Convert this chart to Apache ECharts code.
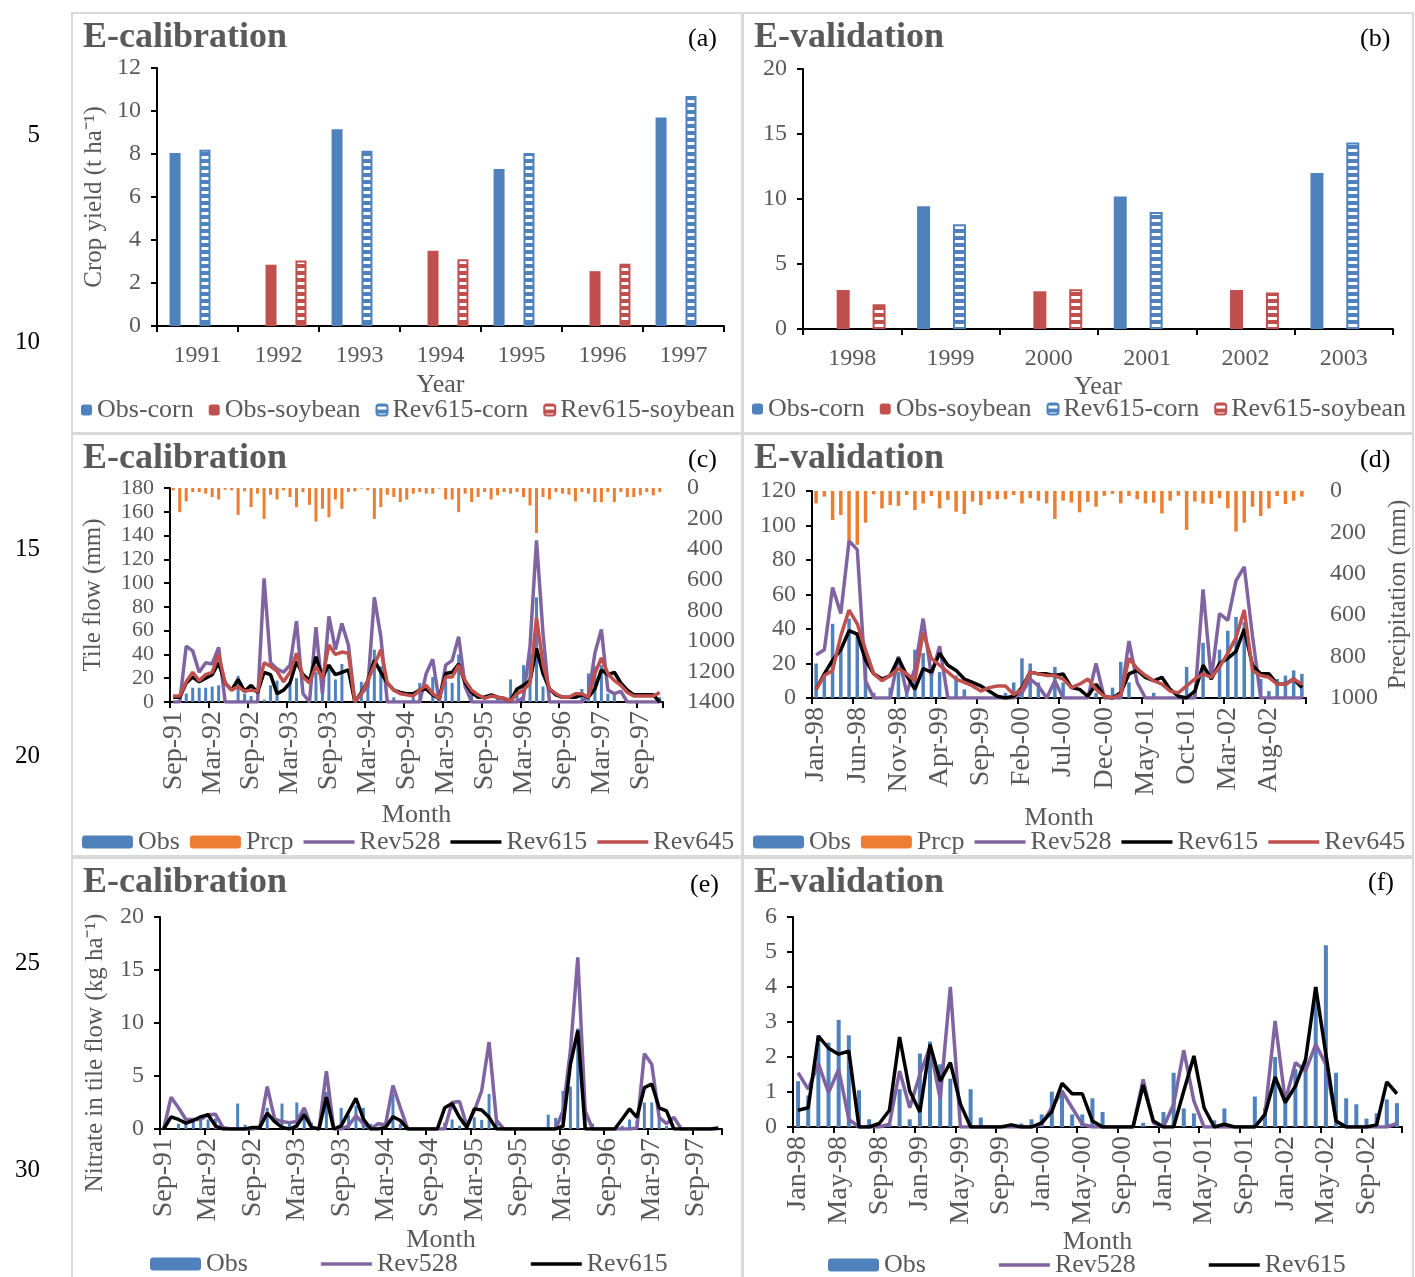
<!DOCTYPE html>
<html><head><meta charset="utf-8">
<script src="https://cdn.jsdelivr.net/npm/echarts@6/dist/echarts.min.js"></script>
<style>html,body{margin:0;padding:0;background:#fff}#c{width:1415px;height:1277px}</style>
</head><body><div id="c"></div>
<script>
// ---------- DATA ----------
const calYears = ['1991','1992','1993','1994','1995','1996','1997'];
const calObsCorn = [8.05, null, 9.15, null, 7.3, null, 9.7];
const calObsSoy  = [null, 2.85, null, 3.5, null, 2.55, null];
const calRevCorn = [8.2, null, 8.15, null, 8.05, null, 10.7];
const calRevSoy  = [null, 3.05, null, 3.1, null, 2.9, null];

const valYears = ['1998','1999','2000','2001','2002','2003'];
const valObsCorn = [null, 9.45, null, 10.2, null, 12.0];
const valObsSoy  = [3.0, null, 2.9, null, 3.0, null];
const valRevCorn = [null, 8.05, null, 9.0, null, 14.35];
const valRevSoy  = [1.9, null, 3.05, null, 2.8, null];

const calMonths = ['Sep-91','Oct-91','Nov-91','Dec-91',
 'Jan-92','Feb-92','Mar-92','Apr-92','May-92','Jun-92','Jul-92','Aug-92','Sep-92','Oct-92','Nov-92','Dec-92',
 'Jan-93','Feb-93','Mar-93','Apr-93','May-93','Jun-93','Jul-93','Aug-93','Sep-93','Oct-93','Nov-93','Dec-93',
 'Jan-94','Feb-94','Mar-94','Apr-94','May-94','Jun-94','Jul-94','Aug-94','Sep-94','Oct-94','Nov-94','Dec-94',
 'Jan-95','Feb-95','Mar-95','Apr-95','May-95','Jun-95','Jul-95','Aug-95','Sep-95','Oct-95','Nov-95','Dec-95',
 'Jan-96','Feb-96','Mar-96','Apr-96','May-96','Jun-96','Jul-96','Aug-96','Sep-96','Oct-96','Nov-96','Dec-96',
 'Jan-97','Feb-97','Mar-97','Apr-97','May-97','Jun-97','Jul-97','Aug-97','Sep-97','Oct-97','Nov-97','Dec-97'];
const valMonths = [
 'Jan-98','Feb-98','Mar-98','Apr-98','May-98','Jun-98','Jul-98','Aug-98','Sep-98','Oct-98','Nov-98','Dec-98',
 'Jan-99','Feb-99','Mar-99','Apr-99','May-99','Jun-99','Jul-99','Aug-99','Sep-99','Oct-99','Nov-99','Dec-99',
 'Jan-00','Feb-00','Mar-00','Apr-00','May-00','Jun-00','Jul-00','Aug-00','Sep-00','Oct-00','Nov-00','Dec-00',
 'Jan-01','Feb-01','Mar-01','Apr-01','May-01','Jun-01','Jul-01','Aug-01','Sep-01','Oct-01','Nov-01','Dec-01',
 'Jan-02','Feb-02','Mar-02','Apr-02','May-02','Jun-02','Jul-02','Aug-02','Sep-02','Oct-02','Nov-02','Dec-02'];

// (c) tile flow calibration, mm
const calPrcp = [15,158,88,26,26,37,59,75,11,15, 176,22,125,37,202,44,75,15,59,125, 26,110,220,136,191,75,136,26,22,4,
 15,202,125,44,59,92,75,37,26,37, 37,4,75,75,158,37,92,59,26,75, 48,26,37,26,59,114,295,59,75,26,
 37,44,88,26,37,92,92,26,92,26, 59,59,48,26,48,26];
const calObs = [0,0,7,12,12,12,13,14,0,0, 22,7,5,0,2,14,18,0,15,20, 0,0,25,25,27,19,32,0,0,17,
 17,44,30,0,4,0,0,4,16,0, 21,0,18,16,40,0,6,0,0,0, 3,0,19,11,31,40,88,13,3,0,
 0,0,0,11,24,30,31,7,7,0, 0,0,0,0,0,4];
const calRev528 = [0,0,47,43,25,33,32,46,0,0, 0,0,0,0,104,33,28,25,31,68, 7,0,63,7,72,44,66,48,0,7,
 13,88,55,0,0,0,0,0,0,24, 36,0,31,35,55,13,0,0,0,0, 0,0,0,0,4,47,136,58,0,0,
 0,0,0,0,5,41,61,10,7,9, 0,0,0,0,0,0];
const calRev615 = [4,4,16,21,17,20,23,33,16,10, 19,9,14,8,25,23,7,10,16,34, 23,18,38,21,31,23,25,27,0,8,
 18,35,25,16,10,8,7,7,10,11, 6,3,24,25,32,16,8,4,4,6, 4,3,1,11,14,18,45,24,11,6,
 4,4,4,6,4,11,27,23,25,16, 10,6,6,6,6,0];
const calRev645 = [5,5,17,25,18,23,25,40,16,10, 13,9,10,9,33,30,26,17,25,41, 21,16,30,20,48,40,42,41,0,7,
 18,31,44,16,10,7,6,5,10,14, 7,3,21,21,31,18,10,6,3,5, 4,3,1,7,10,16,71,32,11,7,
 4,4,7,7,4,24,37,24,18,14, 8,5,5,5,5,8];

// (d) tile flow validation, mm
const valPrcp = [60,27,140,116,252,260,153,16,84,68, 72,19,92,60,24,84,43,100,111,51, 68,40,40,40,19,60,35,47,60,135,
 47,56,103,53,76,23,14,60,24,40, 60,56,108,47,23,188,51,60,63,35, 84,196,153,76,121,84,24,63,47,27];
const valObs = [20,14,43,28,46,38,25,3,0,6, 15,5,28,26,16,15,0,13,5,0, 0,0,0,3,9,23,20,9,0,18,
 9,0,0,0,3,0,6,21,9,0, 0,3,0,0,0,18,3,32,0,28, 39,47,44,16,11,4,11,13,16,14];
const valRev528 = [25,28,64,49,91,86,10,0,0,0, 24,3,17,46,13,30,0,0,0,0, 0,0,0,0,0,3,11,7,0,10,
 0,0,0,0,20,0,0,0,33,9, 0,0,0,0,0,0,0,63,11,49, 45,68,76,36,0,0,0,0,0,0];
const valRev615 = [5,14,22,28,39,37,22,14,11,13, 23,13,5,17,15,26,19,16,11,9, 7,4,1,0,1,6,15,14,14,13,
 14,6,5,1,8,1,0,3,14,16, 12,10,12,5,1,0,4,19,11,20, 23,27,40,19,14,14,8,8,11,6];
const valRev645 = [5,13,16,36,51,43,28,14,10,13, 17,14,10,38,23,19,15,11,9,7, 4,6,7,7,2,5,15,14,13,13,
 11,6,8,11,5,1,0,2,23,17, 13,10,8,4,3,7,11,14,12,18, 26,35,51,16,13,12,8,8,11,8];

// (e) nitrate calibration, kg/ha
const calNObs = [0,0,0.5,0.7,0.8,0.8,0.9,1.0,0,0, 2.4,0.4,0,0,2.0,0,2.4,0.7,2.5,1.8, 0.6,0,3.5,0,2.0,1.3,2.2,2.0,0.5,0,
 0,3.3,0.5,0,0,0,0,0,0.6,0.9, 0.3,0,1.1,0.85,3.3,0.8,0,0,0,0, 0,0,1.35,1.05,3.6,4.0,9.5,2.0,0.5,0,
 0,0,0.3,0.9,0.8,2.5,2.5,1.1,0.3,0, 0,0,0,0,0,0];
const calNRev528 = [0,3.0,2.0,0.9,0.9,0.9,1.35,1.4,0.15,0, 0,0,0,0.15,4.0,0.95,0.7,0.6,0.7,2.0, 0.15,0,5.45,0,0,0.3,1.25,0.5,0,0.5,
 0.4,4.1,2.0,0,0,0,0,0,0,2.5, 2.6,0.3,1.7,3.6,8.2,0.8,0,0,0,0, 0,0,0,0,1.7,7.4,16.2,1.7,0,0,
 0,0,0,0,0.1,7.1,6.1,1.1,0.5,1.1, 0,0,0,0,0,0];
const calNRev615 = [0,1.15,0.9,0.55,0.8,1.15,1.35,0.3,0,0, 0,0,0.15,0.15,1.5,0.7,0.15,0,0.3,1.35, 0.15,0,3.0,0,0.3,1.6,2.9,0.95,0,0,
 0.15,1.15,0.8,0,0,0,0,0,2.0,2.4, 1.1,0.15,1.9,1.8,1.1,0,0,0,0,0, 0,0,0,0,0.3,6.1,9.3,0,0,0,
 0,0,0.95,1.9,1.1,3.9,4.25,2.0,1.7,0, 0,0,0,0,0,0.1];

// (f) nitrate validation, kg/ha
const valNObs = [1.31,0.9,2.63,2.41,3.06,2.62,1.05,0.22,0,0.1, 1.08,0.22,2.1,2.44,1.79,1.38,0,1.08,0.27,0,
 0,0.1,0.1,0.22,0.36,1.01,0.93,0.36,0.36,0.82, 0.43,0,0,0,0.12,0,0.43,1.55,0.53,0.39,
 0,0.19,0.53,0,0,0.87,0.55,2.0,1.0,1.65, 1.89,4.0,5.19,1.55,0.82,0.65,0.24,0.39,0.79,0.68];
const valNRev528 = [1.55,1.08,1.81,0.98,1.65,0.22,0,0,0,0.08, 1.6,0.55,1.5,2.3,0.8,4.0,0,0,0,0,
 0,0,0,0,0.08,0.55,1.03,0.55,0.08,0, 0,0,0,0,1.36,0.12,0,0.65,2.19,0.74,
 0,0,0,0,0,0,0.36,3.03,0.74,1.84, 1.6,2.36,1.79,0.17,0,0,0,0,0,0.1];
const valNRev615 = [0.48,0.55,2.6,2.25,2.08,2.17,0,0,0.1,0.48, 2.57,1.03,0.43,2.36,1.31,1.84,0.65,0,0,0,
 0,0.06,0,0,0.12,0.44,1.25,0.95,0.95,0.17, 0,0,0,0,1.2,0.17,0,0,1.03,2.03,
 0.55,0,0.08,0,0,0,0.36,1.43,0.7,1.17, 1.93,4.0,2.08,0.17,0,0,0,0.06,1.29,0.95];

const lineNumbers = ['5','10','15','20','25','30'];

// ---------- STYLE ----------
const FF = '"Liberation Serif","Times New Roman",serif';
const GRAY = '#595959';
const BLUE = '#4F81BD', RED = '#C0504D', PURPLE = '#8064A2', ORANGE = '#ED7D31';

function stripe(color){
  const c = document.createElement('canvas'); c.width = 8; c.height = 7;
  const g = c.getContext('2d');
  g.fillStyle = color; g.fillRect(0,0,8,7);
  g.fillStyle = '#fff'; g.fillRect(0,2,8,3);
  return c;
}
const blueStripe = {image: stripe(BLUE), repeat: 'repeat'};
const redStripe = {image: stripe(RED), repeat: 'repeat'};

const chart = echarts.init(document.getElementById('c'), null, {renderer:'canvas'});

const axLine = {show:true, lineStyle:{color:'#000', width:2}};
const axTick = {show:true, length:6, lineStyle:{color:'#000', width:2}};
function lbl(size, extra){ return Object.assign({color:GRAY, fontFamily:FF, fontSize:size}, extra||{}); }

function catAxis(grid, data, opts){
  return {
    type:'category', gridIndex:grid, data:data, boundaryGap:true,
    axisLine:axLine, axisTick:Object.assign({}, axTick, {interval:opts.interval}),
    axisLabel:lbl(opts.fs, {interval:opts.interval, rotate:opts.rotate||0, margin:opts.margin}),
    splitLine:{show:false},
    name:opts.name, nameLocation:'middle', nameGap:opts.nameGap,
    nameTextStyle:{color:GRAY, fontFamily:FF, fontSize:26}
  };
}
function valAxis(grid, min, max, interval, opts){
  opts = opts || {};
  return {
    type:'value', gridIndex:grid, min:min, max:max, interval:interval,
    position: opts.position || 'left', inverse: !!opts.inverse,
    axisLine: opts.noLine ? {show:false} : axLine,
    axisTick: opts.noLine ? {show:false} : axTick,
    axisLabel: lbl(opts.fs || 24, {margin: opts.margin || 14, showMinLabel:true, showMaxLabel:true,
      hideOverlap:false, lineHeight: opts.fs || 24, formatter: v => String(v)}),
    splitLine:{show:false},
    name: opts.name || '', nameLocation:'middle', nameGap: opts.nameGap || 0, nameRotate: 90,
    nameTextStyle: {color:GRAY, fontFamily:FF, fontSize:25, padding: opts.namePad || 0}
  };
}

const grids = [
  {left:157, top:68, width:567, height:258},
  {left:803, top:69, width:590, height:260},
  {left:170, top:488, width:493, height:214},
  {left:812, top:491, width:494, height:207},
  {left:160, top:917, width:562, height:212},
  {left:793, top:917, width:609, height:210}
];

const xAxes = [
  catAxis(0, calYears, {interval:0, fs:24, margin:18, name:'Year', nameGap:46}),
  catAxis(1, valYears, {interval:0, fs:24, margin:18, name:'Year', nameGap:45}),
  catAxis(2, calMonths, {interval:5, fs:28, rotate:90, margin:9, name:'Month', nameGap:100}),
  catAxis(3, valMonths, {interval:4, fs:28, rotate:90, margin:9, name:'Month', nameGap:107}),
  catAxis(4, calMonths, {interval:5, fs:28, rotate:90, margin:9, name:'Month', nameGap:98}),
  catAxis(5, valMonths, {interval:3, fs:28, rotate:90, margin:9, name:'Month', nameGap:102})
];

const yAxes = [
  valAxis(0, 0, 12, 2, {name:'Crop yield (t ha\u207B\u00B9)', nameGap:50, margin:16}),
  valAxis(1, 0, 20, 5, {margin:16}),
  valAxis(2, 0, 180, 20, {name:'Tile flow (mm)', nameGap:64, margin:16, fs:22}),
  valAxis(2, 0, 1400, 200, {position:'right', inverse:true, noLine:true, margin:24}),
  valAxis(3, 0, 120, 20, {margin:16}),
  valAxis(3, 0, 1000, 200, {position:'right', inverse:true, noLine:true, margin:24, name:'Precipitation (mm)', nameGap:80}),
  valAxis(4, 0, 20, 5, {name:'Nitrate in tile flow (kg ha\u207B\u00B9)', nameGap:52, margin:16, namePad:[0,60,0,0]}),
  valAxis(5, 0, 6, 1, {margin:16})
];

function bar(name, xi, yi, data, color, w, extra){
  return Object.assign({type:'bar', name:name, xAxisIndex:xi, yAxisIndex:yi, data:data, barWidth:w,
    itemStyle:{color:color}, animation:false}, extra||{});
}
function line(name, xi, yi, data, color, w){
  return {type:'line', name:name, xAxisIndex:xi, yAxisIndex:yi, data:data, symbol:'none', showSymbol:false,
    lineStyle:{color:color, width:w||3.5}, itemStyle:{color:color}, animation:false, z:3};
}
const stripeStyle = (pat, col) => ({color:pat, borderColor:col, borderWidth:2});

const series = [
  bar('Obs-corn', 0, 0, calObsCorn, BLUE, 11, {barGap:'36%'}),
  bar('Obs-soybean', 0, 0, calObsSoy, RED, 11, {barGap:'36%'}),
  bar('Rev615-corn', 0, 0, calRevCorn, null, 11, {barGap:'36%', itemStyle:stripeStyle(blueStripe, BLUE)}),
  bar('Rev615-soybean', 0, 0, calRevSoy, null, 11, {barGap:'36%', itemStyle:stripeStyle(redStripe, RED)}),

  bar('Obs-corn', 1, 1, valObsCorn, BLUE, 13, {barGap:'38%'}),
  bar('Obs-soybean', 1, 1, valObsSoy, RED, 13, {barGap:'38%'}),
  bar('Rev615-corn', 1, 1, valRevCorn, null, 13, {barGap:'38%', itemStyle:stripeStyle(blueStripe, BLUE)}),
  bar('Rev615-soybean', 1, 1, valRevSoy, null, 13, {barGap:'38%', itemStyle:stripeStyle(redStripe, RED)}),

  bar('Obs', 2, 2, calObs, BLUE, 3, {barGap:'-100%'}),
  bar('Prcp', 2, 3, calPrcp, ORANGE, 3, {barGap:'-100%'}),
  line('Rev528', 2, 2, calRev528, PURPLE),
  line('Rev615', 2, 2, calRev615, '#000'),
  line('Rev645', 2, 2, calRev645, RED),

  bar('Obs', 3, 4, valObs, BLUE, 3.5, {barGap:'-100%'}),
  bar('Prcp', 3, 5, valPrcp, ORANGE, 3.5, {barGap:'-100%'}),
  line('Rev528', 3, 4, valRev528, PURPLE),
  line('Rev615', 3, 4, valRev615, '#000'),
  line('Rev645', 3, 4, valRev645, RED),

  bar('Obs', 4, 6, calNObs, BLUE, 3),
  line('Rev528', 4, 6, calNRev528, PURPLE),
  line('Rev615', 4, 6, calNRev615, '#000'),

  bar('Obs', 5, 7, valNObs, BLUE, 4),
  line('Rev528', 5, 7, valNRev528, PURPLE),
  line('Rev615', 5, 7, valNRev615, '#000')
];

const LINE_ICON = 'path://M0,0L51,0L51,3.5L0,3.5Z';
function li(name){ return {name:name, icon:LINE_ICON}; }
const legTxt = {color:GRAY, fontFamily:FF, fontSize:26};
function leg(data, left, top, iw, ih, gap){
  return {data:data, left:left, top:top, itemWidth:iw, itemHeight:ih, itemGap:gap, padding:0,
    textStyle:legTxt, selectedMode:false, orient:'horizontal'};
}
const legends = [
  leg(['Obs-corn','Obs-soybean','Rev615-corn','Rev615-soybean'], 81, 397, 11, 11, 15),
  leg(['Obs-corn','Obs-soybean','Rev615-corn','Rev615-soybean'], 752, 396, 11, 11, 15),
  leg(['Obs','Prcp',li('Rev528'),li('Rev615'),li('Rev645')], 82, 829, 51, 13, 10),
  leg(['Obs','Prcp',li('Rev528'),li('Rev615'),li('Rev645')], 753, 829, 51, 13, 10),
  leg(['Obs',li('Rev528'),li('Rev615')], 150, 1251, 51, 13, 73),
  leg(['Obs',li('Rev528'),li('Rev615')], 828, 1252, 51, 13, 73)
];

function ttl(text, left, top, big){
  return {text:text, left:left, top:top, padding:0,
    textStyle: big ? {fontFamily:FF, fontSize:36, fontWeight:'bold', color:GRAY}
                   : {fontFamily:FF, fontSize:26, fontWeight:'normal', color:'#000'}};
}
const titles = [
  ttl('E-calibration', 83, 20, true), ttl('(a)', 688, 26),
  ttl('E-validation', 754, 20, true), ttl('(b)', 1360, 26),
  ttl('E-calibration', 83, 441, true), ttl('(c)', 688, 447),
  ttl('E-validation', 754, 441, true), ttl('(d)', 1360, 447),
  ttl('E-calibration', 83, 865, true), ttl('(e)', 690, 872),
  ttl('E-validation', 754, 865, true), ttl('(f)', 1368, 870)
];

const lineNumY = [135, 342, 549, 756, 963, 1170];
const graphics = [];
[[72,13,670,420],[743,13,670,420],[72,434,670,422],[743,434,670,422],[72,858,670,420],[743,858,670,420]].forEach(r => {
  graphics.push({type:'rect', shape:{x:r[0], y:r[1], width:r[2], height:r[3]},
    style:{fill:'none', stroke:'#d9d9d9', lineWidth:2}, silent:true, z:-1});
});
lineNumbers.forEach((t, i) => {
  graphics.push({type:'text', x: 40, y: lineNumY[i],
    style:{text:t, font:'25px "Liberation Serif"', fill:'#000', textAlign:'right', textVerticalAlign:'middle'}});
});

chart.setOption({
  animation:false,
  backgroundColor:'#fff',
  title: titles,
  legend: legends,
  grid: grids,
  xAxis: xAxes,
  yAxis: yAxes,
  series: series,
  graphic: graphics
});
</script>
</body></html>
